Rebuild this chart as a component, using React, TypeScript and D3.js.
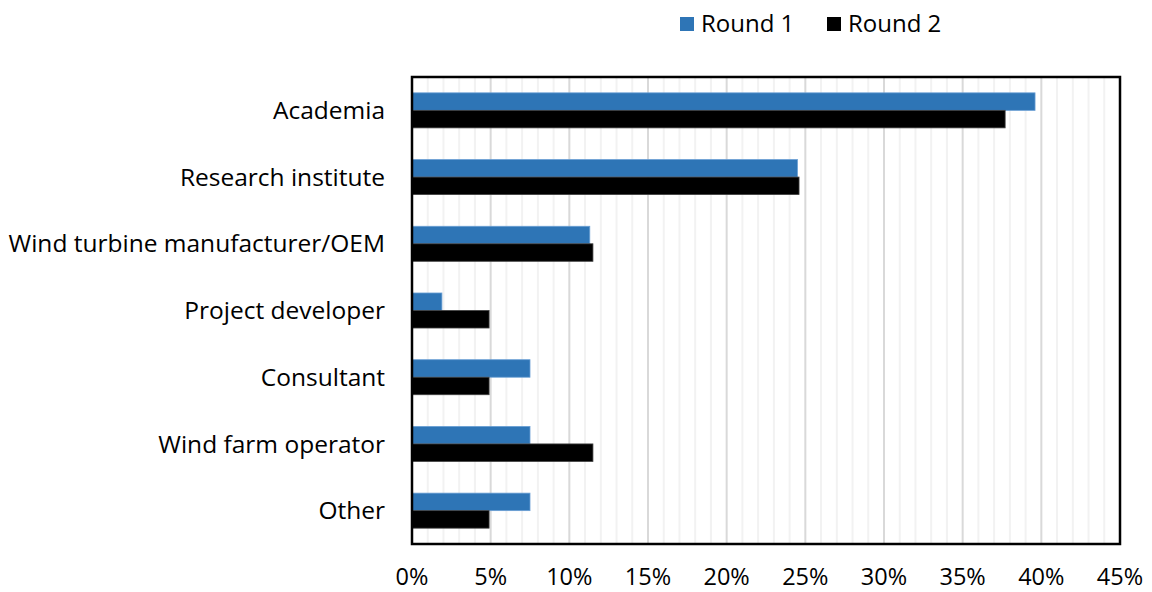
import * as d3 from "d3";
import React from "react";

const categories = [
  "Academia",
  "Research institute",
  "Wind turbine manufacturer/OEM",
  "Project developer",
  "Consultant",
  "Wind farm operator",
  "Other",
];
// share of respondents per round
const round1 = [0.396, 0.245, 0.113, 0.019, 0.075, 0.075, 0.075];
const round2 = [0.377, 0.246, 0.115, 0.049, 0.049, 0.115, 0.049];
const seriesNames = ["Round 1", "Round 2"];
const seriesColors = ["#2e75b6", "#000000"];
const xTicks = [0, 0.05, 0.1, 0.15, 0.2, 0.25, 0.3, 0.35, 0.4, 0.45];

const width = 1152;
const height = 592;
const margin = { top: 77, right: 32, bottom: 48, left: 412 };
const font = "'Open Sans', Lato, sans-serif";

export default function App() {
  const innerW = width - margin.left - margin.right;
  const innerH = height - margin.top - margin.bottom;

  const x = d3.scaleLinear().domain([0, 0.45]).range([0, innerW]);
  const y = d3
    .scaleBand()
    .domain(categories)
    .range([0, innerH])
    .paddingInner(0.475)
    .paddingOuter(0.2375);
  const inner = d3
    .scaleBand()
    .domain(seriesNames)
    .range([0, y.bandwidth()]);

  const minorTicks = d3.range(1, 45).map((d) => d / 100);
  const series = [round1, round2];

  return (
    <div style={{ position: "absolute", left: 0, top: 0 }}>
      <svg width={width} height={height} style={{ display: "block" }}>
        <g transform={`translate(${margin.left},${margin.top})`}>
          {minorTicks.map((t) => (
            <line
              key={t}
              x1={x(t)}
              x2={x(t)}
              y1={0}
              y2={innerH}
              stroke={Math.round(t * 100) % 5 === 0 ? "#d9d9d9" : "#f2f2f2"}
              strokeWidth={2}
            />
          ))}
          {categories.map((c, i) =>
            series.map((s, j) => (
              <rect
                key={c + j}
                x={0}
                y={y(c) + inner(seriesNames[j])}
                width={x(s[i])}
                height={inner.bandwidth()}
                fill={seriesColors[j]}
                stroke={j === 0 ? "#6a9fd4" : "#404040"}
                strokeWidth={0.8}
              />
            ))
          )}
          <rect
            x={0}
            y={0}
            width={innerW}
            height={innerH}
            fill="none"
            stroke="#000"
            strokeWidth={2.5}
          />
          {categories.map((c) => (
            <text
              key={c}
              x={-27}
              y={y(c) + y.bandwidth() / 2}
              dy="0.35em"
              textAnchor="end"
              fontFamily={font}
              fontSize={24.5}
              fill="#000"
            >
              {c}
            </text>
          ))}
          {xTicks.map((t) => (
            <text
              key={t}
              x={x(t)}
              y={innerH + 33}
              dy="0.35em"
              textAnchor="middle"
              fontFamily={font}
              fontSize={23.5}
              fill="#000"
            >
              {d3.format(".0%")(t)}
            </text>
          ))}
        </g>
        <g transform="translate(680,24)">
          {seriesNames.map((n, j) => (
            <g key={n} transform={`translate(${j * 147},0)`}>
              <rect x={0} y={-7} width={14} height={14} fill={seriesColors[j]} />
              <text
                x={21}
                y={0}
                dy="0.35em"
                fontFamily={font}
                fontSize={24}
                fill="#000"
              >
                {n}
              </text>
            </g>
          ))}
        </g>
      </svg>
    </div>
  );
}
